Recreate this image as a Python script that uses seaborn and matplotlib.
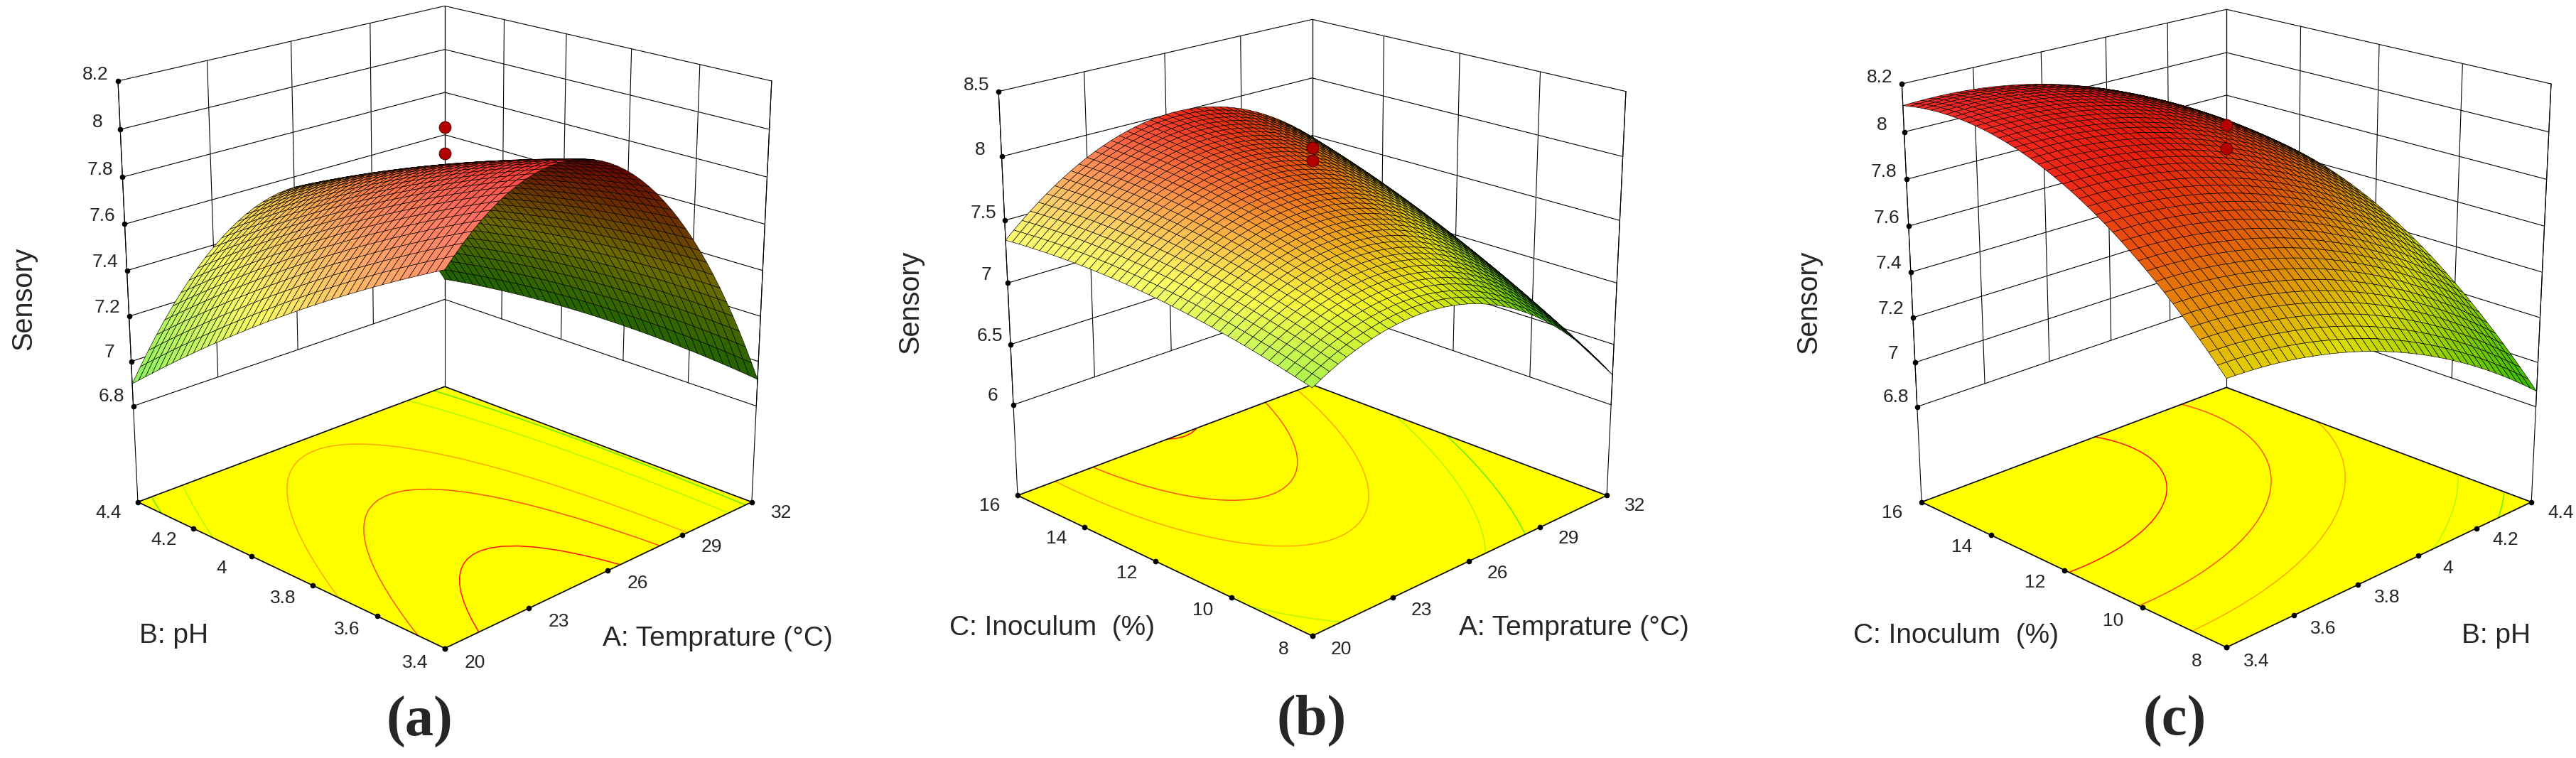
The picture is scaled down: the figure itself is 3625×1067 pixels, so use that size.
import numpy as np
import matplotlib
matplotlib.use("Agg")
import matplotlib.pyplot as plt
import seaborn as sns
from matplotlib.colors import Normalize

sns.set_theme(style="white")
plt.rcParams["font.family"] = ["Liberation Sans", "DejaVu Sans"]

W, H = 3625, 1067

# ---- values ----------------------------------------------------------
temp_lim = [20, 32]
temp_ticks = [20, 23, 26, 29, 32]
ph_lim = [3.4, 4.4]
ph_ticks = [3.4, 3.6, 3.8, 4, 4.2, 4.4]
inoc_lim = [8, 16]
inoc_ticks = [8, 10, 12, 14, 16]

sens_ticks_ac = [6.8, 7, 7.2, 7.4, 7.6, 7.8, 8, 8.2]
sens_ticks_b = [6, 6.5, 7, 7.5, 8, 8.5]
floor_ac = 6.36
floor_b = 5.23

# fitted quadratic response (coded -1..1): b0, x, y, x^2, y^2, xy
model_a = [7.85, -0.235, -0.245, -0.653, -0.052, 0.235]   # x = A, y = B
model_b = [7.74, -0.173, 0.374, -0.590, -0.110, 0.244]    # x = A, y = C
model_c = [7.89, -0.260, 0.360, -0.140, -0.230, 0.030]    # x = B, y = C

center_runs_a = [8.01, 7.90]
center_runs_b = [8.07, 7.97]
center_runs_c = [8.03, 7.93]

contour_levels = [7.0, 7.2, 7.4, 7.6, 7.8, 8.0]

# ---- style -------------------------------------------------------------
color_steps = ["#00a040", "#00b830", "#00cc10", "#30dd00", "#60ee00", "#b0f800",
               "#ffff00", "#ffaa00", "#ff5500", "#ff1500", "#ff0000"]
cmap = sns.blend_palette(color_steps, as_cmap=True)
norm = Normalize(6.2, 8.2)

AZIM = -135
NGRID = 41

# pixel spots of box corners in the picture (left, right, front, back floor corners,
# back top, left top, left lowest tick, right top)
panels = [
    dict(x_lim=temp_lim, x_ticks=temp_ticks, y_lim=ph_lim, y_ticks=ph_ticks,
         z_ticks=sens_ticks_ac, z_floor=floor_ac, model=model_a, runs=center_runs_a,
         x_label="A: Temprature (\u00b0C)", y_label="B: pH", tag="(a)", stem=False,
         target=[(195, 708), (1060, 709), (623, 913), (627, 545),
                 (627, 10), (165, 114), (187, 564), (1085, 115)],
         x_label_xy=(1010, 899), y_label_xy=(245, 895),
         sens_xy=(33, 420), tag_xy=(590, 1016)),
    dict(x_lim=temp_lim, x_ticks=temp_ticks, y_lim=inoc_lim, y_ticks=inoc_ticks,
         z_ticks=sens_ticks_b, z_floor=floor_b, model=model_b, runs=center_runs_b,
         x_label="A: Temprature (\u00b0C)", y_label="C: Inoculum  (%)", tag="(b)", stem=False,
         target=[(1433, 699), (2257, 699), (1845, 899), (1845, 543),
                 (1850, 27), (1406, 127), (1428, 565), (2288, 127)],
         x_label_xy=(2215, 884), y_label_xy=(1481, 884),
         sens_xy=(1281, 425), tag_xy=(1846, 1014)),
    dict(x_lim=ph_lim, x_ticks=ph_ticks, y_lim=inoc_lim, y_ticks=inoc_ticks,
         z_ticks=sens_ticks_ac, z_floor=floor_ac, model=model_c, runs=center_runs_c,
         x_label="B: pH", y_label="C: Inoculum  (%)", tag="(c)", stem=True,
         target=[(2705, 707), (3560, 707), (3133, 915), (3133, 548),
                 (3133, 15), (2677, 117), (2698, 566), (3591, 117)],
         x_label_xy=(3513, 895), y_label_xy=(2752, 895),
         sens_xy=(2545, 425), tag_xy=(3060, 1015)),
]

fig = plt.figure(figsize=(W / 100, H / 100), dpi=100)


def project(M, x, y, z):
    v = M @ np.vstack([np.ravel(x), np.ravel(y), np.ravel(z), np.ones(np.size(x))])
    return v[0] / v[3], v[1] / v[3]


def quad_area(px, py):
    x00, x01, x11, x10 = px[:-1, :-1], px[:-1, 1:], px[1:, 1:], px[1:, :-1]
    y00, y01, y11, y10 = py[:-1, :-1], py[:-1, 1:], py[1:, 1:], py[1:, :-1]
    return 0.5 * ((x00 * y01 - x01 * y00) + (x01 * y11 - x11 * y01)
                  + (x11 * y10 - x10 * y11) + (x10 * y00 - x00 * y10))


def corner_points(p):
    x0, x1 = p["x_lim"]
    y0, y1 = p["y_lim"]
    zf, zt = p["z_floor"], p["z_ticks"]
    return np.array([[x0, y1, zf], [x1, y0, zf], [x0, y0, zf], [x1, y1, zf],
                     [x1, y1, zt[-1]], [x0, y1, zt[-1]], [x0, y1, zt[0]], [x1, y0, zt[-1]]])


def set_view(ax, elev, focal, zasp):
    ax.view_init(elev=elev, azim=AZIM)
    ax.set_proj_type("persp", focal_length=focal)
    ax.set_box_aspect((1, 1, zasp))


def corner_fit(ax, p, M):
    pts = corner_points(p)
    px, py = project(M, pts[:, 0], pts[:, 1], pts[:, 2])
    d = ax.transData.transform(np.column_stack([px, py]))
    t = np.array([(q[0], H - q[1]) for q in p["target"]], float)
    dm, tm = d.mean(0), t.mean(0)
    s = ((d - dm) * (t - tm)).sum() / ((d - dm) ** 2).sum()
    res = ((s * (d - dm) + tm - t) ** 2).sum()
    return res, s, dm, tm


def fig_text(xy, txt, **kw):
    fig.text(xy[0] / W, 1 - xy[1] / H, txt, ha="center", va="center", **kw)


built = []
for p in panels:
    x0, x1 = p["x_lim"]
    y0, y1 = p["y_lim"]
    zt = p["z_ticks"]
    zf = p["z_floor"]
    ztop = zt[-1]
    xm, xh = (x0 + x1) / 2, (x1 - x0) / 2
    ym, yh = (y0 + y1) / 2, (y1 - y0) / 2

    cx = np.mean([t[0] for t in p["target"]])
    cy = H - np.mean([t[1] for t in p["target"]])
    S = 1000
    ax = fig.add_axes([(cx - S / 2) / W, (cy - S / 2) / H, S / W, S / H], projection="3d")
    ax.patch.set_visible(False)
    ax.computed_zorder = False

    g = np.linspace(-1, 1, NGRID)
    U, V = np.meshgrid(g, g)
    b0, bx, by, bxx, byy, bxy = p["model"]
    Z = b0 + bx * U + by * V + bxx * U ** 2 + byy * V ** 2 + bxy * U * V
    X = xm + xh * U
    Y = ym + yh * V

    # back walls
    wall = dict(color="black", lw=0.8, zorder=1)
    for z in zt:
        ax.plot([x0, x1], [y1, y1], [z, z], **wall)
        ax.plot([x1, x1], [y0, y1], [z, z], **wall)
    for x in p["x_ticks"]:
        ax.plot([x, x], [y1, y1], [zt[0], ztop], **wall)
    for y in p["y_ticks"]:
        ax.plot([x1, x1], [y, y], [zt[0], ztop], **wall)
    for ccx, ccy in [(x0, y1), (x1, y1), (x1, y0)]:
        ax.plot([ccx, ccx], [ccy, ccy], [zf, ztop], **wall)

    # floor with contours
    ax.plot_surface(np.array([[x0, x1], [x0, x1]]), np.array([[y0, y0], [y1, y1]]),
                    np.full((2, 2), zf), color="#ffff00", shade=False, linewidth=0,
                    antialiased=False, zorder=2)
    ax.contour(X, Y, Z, levels=contour_levels, zdir="z", offset=zf, cmap=cmap,
               norm=norm, linewidths=1.1, zorder=3)
    ax.plot([x0, x1, x1, x0, x0], [y0, y0, y1, y1, y0], [zf] * 5,
            color="black", lw=1.2, zorder=4)
    dot = dict(marker="o", ls="none", color="black", ms=4.5, zorder=4)
    ax.plot(p["x_ticks"], [y0] * len(p["x_ticks"]), [zf] * len(p["x_ticks"]), **dot)
    ax.plot([x0] * len(p["y_ticks"]), p["y_ticks"], [zf] * len(p["y_ticks"]), **dot)
    ax.plot([x0] * len(zt), [y1] * len(zt), zt, **dot)

    # tick label anchors in data space; drawn as flat text once the view is fixed
    labels = []
    for x in p["x_ticks"]:
        labels.append((x, y0 - 0.17 * yh, zf, f"{x:g}"))
    for y in p["y_ticks"]:
        labels.append((x0 - 0.17 * xh, y, zf, f"{y:g}"))
    for z in zt:
        labels.append((x0, y1 + 0.16 * yh, z, f"{z:g}"))

    # response surface
    fc0 = np.ones(Z.shape + (4,))
    surf = ax.plot_surface(X, Y, Z, rstride=1, cstride=1, facecolors=fc0,
                           shade=False, linewidth=0.45, antialiased=True, zorder=5)
    surf.set_edgecolor("black")

    # centre runs
    ax.plot([xm, xm], [ym, ym], p["runs"], marker="o", ls="none", ms=12,
            color="#b30000", mec="#5a0000", mew=0.8, zorder=10)
    if p["stem"]:
        ax.plot([xm, xm], [ym, ym], [max(p["runs"]), b0], color="#5a0000", lw=0.8, zorder=9)

    ax.set_xlim(x0, x1)
    ax.set_ylim(y0, y1)
    ax.set_zlim(zf, ztop)
    set_view(ax, 25, 0.6, 1.08)
    ax.set_axis_off()

    fig_text(p["x_label_xy"], p["x_label"], fontsize=28)
    fig_text(p["y_label_xy"], p["y_label"], fontsize=28)
    fig_text(p["sens_xy"], "Sensory", rotation=90, fontsize=28.5)
    fig_text(p["tag_xy"], p["tag"], fontsize=58, fontweight="bold",
             family=["Liberation Serif", "DejaVu Serif"])
    built.append((ax, p, X, Y, Z, surf, labels))

fig.canvas.draw()

# pick the camera that puts the box corners where the picture has them
best = None
for elev in np.arange(18, 33, 1.0):
    for focal in np.arange(0.3, 1.61, 0.05):
        for zasp in np.arange(0.9, 1.31, 0.02):
            tot = 0.0
            for ax, p, *_ in built:
                set_view(ax, elev, focal, zasp)
                tot += corner_fit(ax, p, ax.get_proj())[0]
            if best is None or tot < best[0]:
                best = (tot, elev, focal, zasp)
_, ELEV, FOCAL, ZASP = best

for ax, p, *_ in built:
    set_view(ax, ELEV, FOCAL, ZASP)
    res, s, dm, tm = corner_fit(ax, p, ax.get_proj())
    bb = ax.get_position()
    bx0, by0, bw, bh = bb.x0 * W, bb.y0 * H, bb.width * W, bb.height * H
    ax.set_position([(s * (bx0 - dm[0]) + tm[0]) / W, (s * (by0 - dm[1]) + tm[1]) / H,
                     s * bw / W, s * bh / H])

fig.canvas.draw()

# light in view coordinates (right, up, toward viewer)
e, a = np.deg2rad(ELEV), np.deg2rad(AZIM)
w_vec = np.array([np.cos(e) * np.cos(a), np.cos(e) * np.sin(a), np.sin(e)])
u_vec = np.array([-np.sin(a), np.cos(a), 0.0])
v_vec = np.cross(w_vec, u_vec)
L = -0.55 * u_vec + 0.55 * v_vec + 0.65 * w_vec
L /= np.linalg.norm(L)

for ax, p, X, Y, Z, surf, labels in built:
    zf = p["z_floor"]
    ztop = p["z_ticks"][-1]

    # tick labels at their projected spots
    for lx, ly, lz, txt in labels:
        qx, qy = project(ax.M, [lx], [ly], [lz])
        dx, dy = ax.transData.transform([[qx[0], qy[0]]])[0]
        fig.text(dx / W, dy / H, txt, fontsize=19, ha="center", va="center")

    # face colours: colour map, light, darker underside
    zc = (Z[:-1, :-1] + Z[:-1, 1:] + Z[1:, :-1] + Z[1:, 1:]) / 4
    base = cmap(norm(zc))[..., :3]
    du = 2.0 / (NGRID - 1)
    zs = (ztop - zf) / ZASP
    dzdu = ((Z[:-1, 1:] - Z[:-1, :-1]) + (Z[1:, 1:] - Z[1:, :-1])) / (2 * du)
    dzdv = ((Z[1:, :-1] - Z[:-1, :-1]) + (Z[1:, 1:] - Z[:-1, 1:])) / (2 * du)
    nrm = np.stack([-2 * dzdu / zs, -2 * dzdv / zs, np.ones_like(dzdu)], -1)
    nrm /= np.linalg.norm(nrm, axis=-1, keepdims=True)
    lit = np.clip(nrm @ L, 0, 1)
    top = base * (0.78 + 0.22 * lit)[..., None]
    top = top + (1 - top) * (0.45 * lit ** 4)[..., None]
    under = base * 0.42

    sx, sy = project(ax.M, X, Y, Z)
    fx, fy = project(ax.M, X, Y, np.full_like(Z, zf))
    a_s = quad_area(sx.reshape(Z.shape), sy.reshape(Z.shape))
    a_f = quad_area(fx.reshape(Z.shape), fy.reshape(Z.shape))
    back = np.sign(a_s) != np.sign(a_f)
    cols = np.where(back[..., None], under, top).reshape(-1, 3)
    cols = np.column_stack([cols, np.ones(len(cols))])
    surf.set_facecolor(cols)
    surf.set_edgecolor("black")

fig.savefig("out.png", dpi=100, facecolor="white")
